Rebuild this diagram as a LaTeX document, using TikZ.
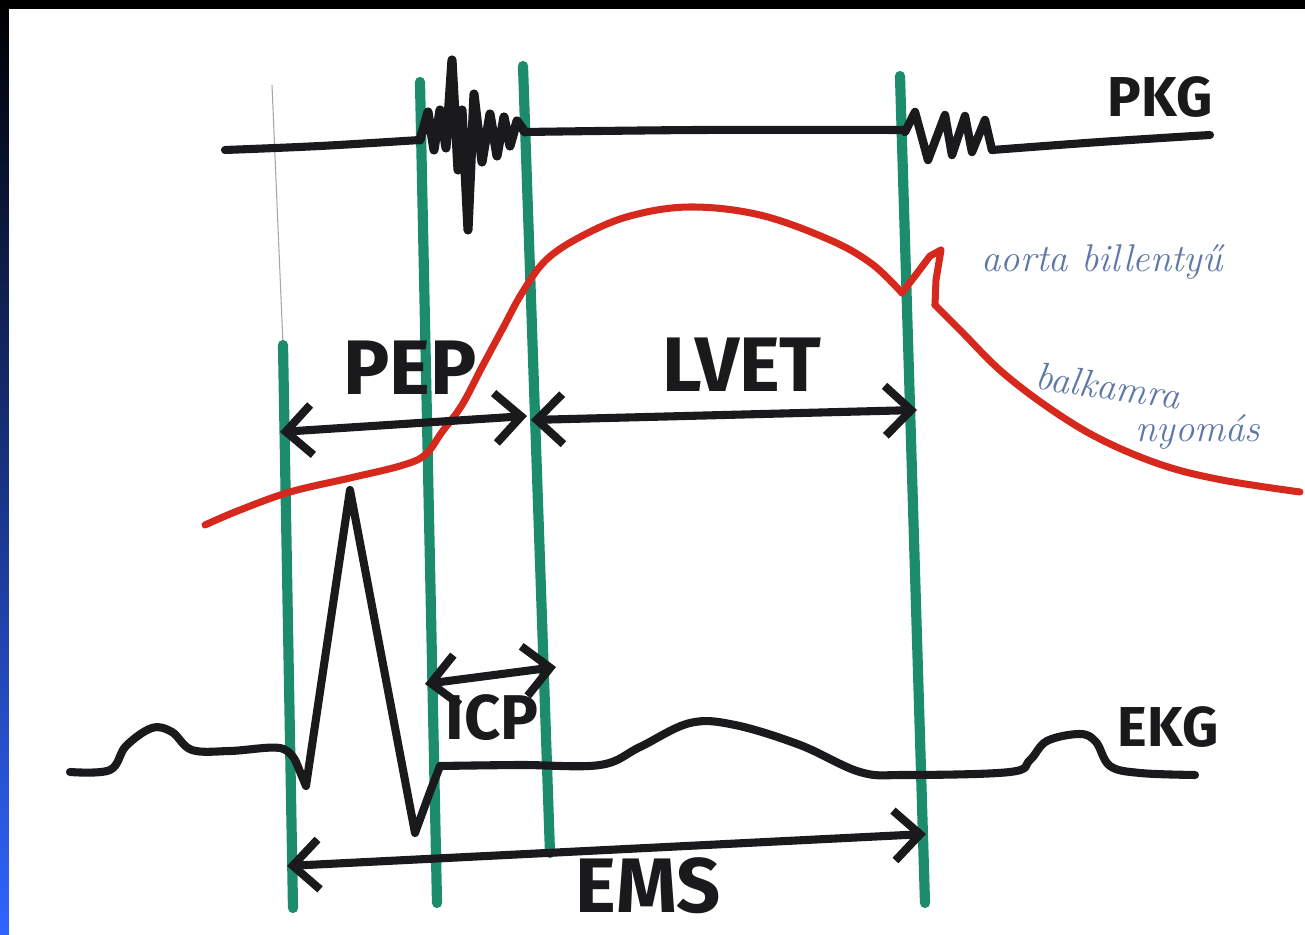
\documentclass[tikz,border=0pt]{standalone}
\usepackage{fontspec}
\setsansfont{Fira Sans}
\usetikzlibrary{arrows.meta}

\definecolor{markgreen}{RGB}{28,140,108}
\definecolor{markred}{RGB}{214,40,28}
\definecolor{markblack}{RGB}{26,26,28}
\definecolor{pencilblue}{RGB}{95,120,170}
\definecolor{slideblue}{RGB}{48,100,255}

\tikzset{
  marker/.style={line width=2.3pt, markblack, line cap=round, line join=round},
  green line/.style={line width=2.9pt, markgreen, line cap=round},
  red line/.style={line width=2pt, markred, line cap=round, line join=round},
  span/.style={marker, {Straight Barb[length=2.6mm,width=5mm]}-{Straight Barb[length=2.6mm,width=5mm]}},
  letters/.style={outer sep=0pt, markblack, font=\sffamily\bfseries\fontsize{22}{24}\selectfont},
  small letters/.style={letters, font=\sffamily\bfseries\fontsize{18}{20}\selectfont},
  tag letters/.style={letters, font=\sffamily\bfseries\fontsize{16}{18}\selectfont},
  pencil/.style={outer sep=0pt, pencilblue, font=\itshape\fontsize{11}{12}\selectfont}
}

\begin{document}
\begin{tikzpicture}[x=0.1mm,y=-0.1mm]
\useasboundingbox (0,0) rectangle (1305,935);
% slide frame
\fill[black] (0,0) rectangle (1305,9);
\shade[top color=black, bottom color=slideblue] (0,0) rectangle (9,935);
\fill[white] (9,9) rectangle (1305,935);

% pencil guide
\draw[gray!70, line width=0.3pt] (272,85) -- (283,345);

% green markers
\foreach \xa/\ya/\xb/\yb in {283/345/293/908, 420/82/437/903, 523/66/550/853, 900/76/925/903}
  \draw[green line] (\xa,\ya) -- (\xb,\yb);

% PKG
\draw[marker] plot[smooth, tension=.6] coordinates {(225,150) (320,146) (420,140)};
\draw[marker, line width=2.6pt] (420,140) -- (428,112) -- (434,150) -- (440,110) -- (446,148) -- (452,60) -- (458,170) -- (462,110) -- (468,230) -- (474,94) -- (482,162) -- (490,114) -- (497,156) -- (504,117) -- (510,146) -- (517,121) -- (525,132);
\draw[marker] plot[smooth, tension=.6] coordinates {(525,132) (700,130) (905,130)};
\draw[marker, line width=2.4pt] (905,132) -- (915,112) -- (928,160) -- (945,115) -- (952,155) -- (965,116) -- (972,152) -- (985,120) -- (992,150);
\draw[marker] plot[smooth, tension=.6] coordinates {(992,150) (1100,142) (1210,135)};
\node[tag letters] (pkg) at (1160,97) {PKG};

% pressure curves
\draw[red line] plot[smooth, tension=.6] coordinates {(205,525) (240,510) (290,492) (350,478) (400,466) (425,455) (442,432) (462,405) (482,367) (503,328) (522,293) (546,260) (582,236) (630,216) (690,207) (760,215) (830,240) (872,264) (902,293)};
\draw[red line] (902,293) -- (918,272) -- (930,256) -- (941,250) -- (936,280) -- (935,305);
\draw[red line] plot[smooth, tension=.6] coordinates {(935,305) (962,332) (1002,372) (1052,410) (1102,440) (1162,465) (1222,480) (1300,492)};
\node[pencil] (notea) at (1102,262) {aorta billentyű};
\node[pencil, rotate=-8] (noteb) at (1108,386) {balkamra};
\node[pencil] (notec) at (1198,432) {nyomás};

% intervals
\coordinate (pepL) at (280,432);
\coordinate (pepR) at (527,416);
\coordinate (lvetL) at (531,420);
\coordinate (lvetR) at (917,410);
\draw[span] (pepL) -- (pepR);
\draw[span] (lvetL) -- (lvetR);
\node[letters] (pep) at (410,368) {PEP};
\node[letters] (lvet) at (742,365) {LVET};

% EKG
\draw[marker] plot[smooth, tension=.6] coordinates {(70,772) (110,770) (126,746) (152,728) (172,732) (192,750) (230,751) (280,748) (296,762)};
\draw[marker] (296,762) -- (306,786) -- (350,490) -- (415,833) -- (430,792) -- (440,766);
\draw[marker] plot[smooth, tension=.6] coordinates {(440,766) (520,765) (600,765) (640,747) (690,723) (735,725) (800,745) (860,772) (905,775) (1010,772) (1030,760) (1047,741) (1080,734) (1096,742) (1110,766) (1140,773) (1195,775)};
\node[tag letters] (ekg) at (1168,727) {EKG};

\coordinate (icpL) at (425,684);
\coordinate (icpR) at (556,667);
\draw[span] (icpL) -- (icpR);
\node[small letters] (icp) at (492,718) {ICP};

\coordinate (emsL) at (287,866);
\coordinate (emsR) at (926,834);
\draw[span] (emsL) -- (emsR);
\node[letters] (ems) at (648,886) {EMS};

\end{tikzpicture}
\end{document}
